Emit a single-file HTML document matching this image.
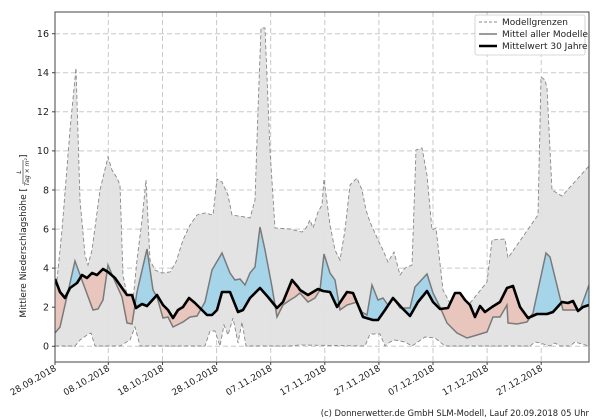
<!DOCTYPE html>
<html><head><meta charset="utf-8"><style>
body{margin:0;background:#fff}
svg{display:block;font-family:"DejaVu Sans","Liberation Sans",sans-serif}
</style></head><body>
<svg width="600" height="420" viewBox="0 0 600 420" xmlns="http://www.w3.org/2000/svg">
<defs>
<clipPath id="plot"><rect x="55" y="12" width="534" height="350"/></clipPath>
<clipPath id="aboveClim"><polygon points="55,12 55,279 60,292 65,298 70,288 77,283 82,275 87,278 92,273 97,275 103,269 108,272 115,278 122,288 127,295 132,295 136,308 142,304 147,306 157,295 163,305 168,310 173,318 178,310 183,307 189,298 195,303 207,315 212,315 217,310 222,292 230,292 238,312 243,310 250,298 260,288 268,297 277,308 283,302 292,280 298,287 300,290 308,295 318,289 323,291 330,292 337,307 347,292 353,293 363,317 373,320 378,320 385,310 393,298 402,308 410,316 418,302 427,291 433,302 440,309 448,308 455,293 460,293 465,300 470,305 475,317 480,306 485,312 492,307 500,302 507,288 513,286 520,307 528,318 537,314 547,314 553,312 562,302 568,303 573,301 578,311 583,307 589,305 589,12"/></clipPath>
<clipPath id="aboveModel"><polygon points="55,12 55,333 60,327 75,261 83,283 93,310 98,309 103,300 108,265 113,277 122,297 127,323 132,324 137,292 147,249 153,290 157,297 163,318 168,317 173,327 183,322 190,317 197,316 205,302 212,270 222,253 230,273 235,280 240,279 245,285 250,273 255,267 260,227 265,250 272,287 277,317 283,305 290,300 295,297 300,293 308,302 315,298 320,290 324,254 330,273 335,280 340,310 347,305 357,302 362,312 367,315 372,285 378,300 383,298 388,305 393,298 400,308 410,308 415,287 427,274 433,293 440,307 447,323 457,333 467,338 477,335 487,332 493,317 500,317 507,305 508,323 517,324 527,322 533,313 546,253 550,257 563,310 573,310 580,310 589,285 589,12"/></clipPath>
</defs>
<g stroke="#c8c8c8" stroke-width="1" stroke-dasharray="5,3">
<line x1="55" x2="589" y1="346.3" y2="346.3"/><line x1="55" x2="589" y1="307.2" y2="307.2"/><line x1="55" x2="589" y1="268.1" y2="268.1"/><line x1="55" x2="589" y1="229.1" y2="229.1"/><line x1="55" x2="589" y1="190" y2="190"/><line x1="55" x2="589" y1="150.9" y2="150.9"/><line x1="55" x2="589" y1="111.8" y2="111.8"/><line x1="55" x2="589" y1="72.7" y2="72.7"/><line x1="55" x2="589" y1="33.7" y2="33.7"/>
<line y1="12" y2="362" x1="108.3" x2="108.3"/><line y1="12" y2="362" x1="162.5" x2="162.5"/><line y1="12" y2="362" x1="216.6" x2="216.6"/><line y1="12" y2="362" x1="270.7" x2="270.7"/><line y1="12" y2="362" x1="324.8" x2="324.8"/><line y1="12" y2="362" x1="378.9" x2="378.9"/><line y1="12" y2="362" x1="433" x2="433"/><line y1="12" y2="362" x1="487.1" x2="487.1"/><line y1="12" y2="362" x1="541.2" x2="541.2"/>
</g>
<g clip-path="url(#plot)">
<polygon fill="#e2e2e2" fill-opacity="0.95" points="55,300 62,230 70,130 76,68 80,200 85,255 88,265 92,250 100,190 108,157 112,170 117,178 120,185 123,275 128,300 133,300 137,260 142,220 146,180 150,260 155,270 162,273 170,272 176,262 183,240 190,225 197,215 205,213 213,215 217,179 222,182 228,195 232,215 245,217 250,218 255,200 258,110 261,28 265,28 270,150 275,228 290,229 302,232 306,228 310,220 313,228 318,212 322,205 324,179 330,225 335,250 340,260 345,230 350,185 357,178 362,190 366,210 370,222 378,240 383,250 388,262 394,252 400,275 405,268 412,265 416,150 422,148 427,175 432,230 436,228 443,290 458,318 487,282 492,240 505,239 508,258 538,215 541,77 545,80 547,88 552,190 562,196 589,166 589,346 575,342 570,346 560,346 555,343 550,346 540,343 535,342 530,346 445,346 435,338 425,337 412,346 405,342 395,340 390,342 385,346 380,334 370,334 365,346 300,345 290,346 246,346 242,322 238,343 233,318 228,335 224,325 220,346 215,331 210,331 205,346 140,346 135,327 130,340 120,346 95,346 91,333 87,335 80,340 75,346 55,346"/>
<polyline fill="none" stroke="#888" stroke-width="0.9" stroke-dasharray="4,2.5" points="55,300 62,230 70,130 76,68 80,200 85,255 88,265 92,250 100,190 108,157 112,170 117,178 120,185 123,275 128,300 133,300 137,260 142,220 146,180 150,260 155,270 162,273 170,272 176,262 183,240 190,225 197,215 205,213 213,215 217,179 222,182 228,195 232,215 245,217 250,218 255,200 258,110 261,28 265,28 270,150 275,228 290,229 302,232 306,228 310,220 313,228 318,212 322,205 324,179 330,225 335,250 340,260 345,230 350,185 357,178 362,190 366,210 370,222 378,240 383,250 388,262 394,252 400,275 405,268 412,265 416,150 422,148 427,175 432,230 436,228 443,290 458,318 487,282 492,240 505,239 508,258 538,215 541,77 545,80 547,88 552,190 562,196 589,166"/>
<polyline fill="none" stroke="#888" stroke-width="0.9" stroke-dasharray="4,2.5" points="55,346 75,346 80,340 87,335 91,333 95,346 120,346 130,340 135,327 140,346 205,346 210,331 215,331 220,346 224,325 228,335 233,318 238,343 242,322 246,346 290,346 300,345 365,346 370,334 380,334 385,346 390,342 395,340 405,342 412,346 425,337 435,338 445,346 530,346 535,342 540,343 550,346 555,343 560,346 570,346 575,342 589,346"/>
<polygon clip-path="url(#aboveClim)" fill="#a6d5ea" points="55,333 60,327 75,261 83,283 93,310 98,309 103,300 108,265 113,277 122,297 127,323 132,324 137,292 147,249 153,290 157,297 163,318 168,317 173,327 183,322 190,317 197,316 205,302 212,270 222,253 230,273 235,280 240,279 245,285 250,273 255,267 260,227 265,250 272,287 277,317 283,305 290,300 295,297 300,293 308,302 315,298 320,290 324,254 330,273 335,280 340,310 347,305 357,302 362,312 367,315 372,285 378,300 383,298 388,305 393,298 400,308 410,308 415,287 427,274 433,293 440,307 447,323 457,333 467,338 477,335 487,332 493,317 500,317 507,305 508,323 517,324 527,322 533,313 546,253 550,257 563,310 573,310 580,310 589,285 589,362 55,362"/>
<polygon clip-path="url(#aboveModel)" fill="#e8c6be" points="55,279 60,292 65,298 70,288 77,283 82,275 87,278 92,273 97,275 103,269 108,272 115,278 122,288 127,295 132,295 136,308 142,304 147,306 157,295 163,305 168,310 173,318 178,310 183,307 189,298 195,303 207,315 212,315 217,310 222,292 230,292 238,312 243,310 250,298 260,288 268,297 277,308 283,302 292,280 298,287 300,290 308,295 318,289 323,291 330,292 337,307 347,292 353,293 363,317 373,320 378,320 385,310 393,298 402,308 410,316 418,302 427,291 433,302 440,309 448,308 455,293 460,293 465,300 470,305 475,317 480,306 485,312 492,307 500,302 507,288 513,286 520,307 528,318 537,314 547,314 553,312 562,302 568,303 573,301 578,311 583,307 589,305 589,362 55,362"/>
<polyline fill="none" stroke="#7a7a7a" stroke-width="1.5" points="55,333 60,327 75,261 83,283 93,310 98,309 103,300 108,265 113,277 122,297 127,323 132,324 137,292 147,249 153,290 157,297 163,318 168,317 173,327 183,322 190,317 197,316 205,302 212,270 222,253 230,273 235,280 240,279 245,285 250,273 255,267 260,227 265,250 272,287 277,317 283,305 290,300 295,297 300,293 308,302 315,298 320,290 324,254 330,273 335,280 340,310 347,305 357,302 362,312 367,315 372,285 378,300 383,298 388,305 393,298 400,308 410,308 415,287 427,274 433,293 440,307 447,323 457,333 467,338 477,335 487,332 493,317 500,317 507,305 508,323 517,324 527,322 533,313 546,253 550,257 563,310 573,310 580,310 589,285"/>
<polyline fill="none" stroke="#000" stroke-width="2.6" stroke-linejoin="round" points="55,279 60,292 65,298 70,288 77,283 82,275 87,278 92,273 97,275 103,269 108,272 115,278 122,288 127,295 132,295 136,308 142,304 147,306 157,295 163,305 168,310 173,318 178,310 183,307 189,298 195,303 207,315 212,315 217,310 222,292 230,292 238,312 243,310 250,298 260,288 268,297 277,308 283,302 292,280 298,287 300,290 308,295 318,289 323,291 330,292 337,307 347,292 353,293 363,317 373,320 378,320 385,310 393,298 402,308 410,316 418,302 427,291 433,302 440,309 448,308 455,293 460,293 465,300 470,305 475,317 480,306 485,312 492,307 500,302 507,288 513,286 520,307 528,318 537,314 547,314 553,312 562,302 568,303 573,301 578,311 583,307 589,305"/>
</g>
<rect x="55" y="12" width="534" height="350" fill="none" stroke="#444" stroke-width="1"/>
<g stroke="#444" stroke-width="1">
<line x1="52" x2="55" y1="346.3" y2="346.3"/><line x1="52" x2="55" y1="307.2" y2="307.2"/><line x1="52" x2="55" y1="268.1" y2="268.1"/><line x1="52" x2="55" y1="229.1" y2="229.1"/><line x1="52" x2="55" y1="190" y2="190"/><line x1="52" x2="55" y1="150.9" y2="150.9"/><line x1="52" x2="55" y1="111.8" y2="111.8"/><line x1="52" x2="55" y1="72.7" y2="72.7"/><line x1="52" x2="55" y1="33.7" y2="33.7"/>
<line y1="362" y2="365" x1="55" x2="55"/><line y1="362" y2="365" x1="108.3" x2="108.3"/><line y1="362" y2="365" x1="162.5" x2="162.5"/><line y1="362" y2="365" x1="216.6" x2="216.6"/><line y1="362" y2="365" x1="270.7" x2="270.7"/><line y1="362" y2="365" x1="324.8" x2="324.8"/><line y1="362" y2="365" x1="378.9" x2="378.9"/><line y1="362" y2="365" x1="433" x2="433"/><line y1="362" y2="365" x1="487.1" x2="487.1"/><line y1="362" y2="365" x1="541.2" x2="541.2"/>
</g>
<g font-size="9.5" fill="#222" text-anchor="end">
<text x="49" y="349.5">0</text><text x="49" y="310.5">2</text><text x="49" y="271.5">4</text><text x="49" y="232.5">6</text><text x="49" y="193.5">8</text><text x="49" y="154">10</text><text x="49" y="115">12</text><text x="49" y="76">14</text><text x="49" y="37">16</text>
</g>
<g font-size="9" fill="#222" text-anchor="end">
<text transform="translate(57,370) rotate(-30)">28.09.2018</text>
<text transform="translate(110.3,370) rotate(-30)">08.10.2018</text>
<text transform="translate(164.5,370) rotate(-30)">18.10.2018</text>
<text transform="translate(218.6,370) rotate(-30)">28.10.2018</text>
<text transform="translate(272.7,370) rotate(-30)">07.11.2018</text>
<text transform="translate(326.8,370) rotate(-30)">17.11.2018</text>
<text transform="translate(380.9,370) rotate(-30)">27.11.2018</text>
<text transform="translate(435,370) rotate(-30)">07.12.2018</text>
<text transform="translate(489.1,370) rotate(-30)">17.12.2018</text>
<text transform="translate(543.2,370) rotate(-30)">27.12.2018</text>
</g>
<g transform="translate(26,188) rotate(-90)" font-size="9" fill="#222">
<text x="0" y="0" text-anchor="end">Mittlere Niederschlagshöhe [</text>
<text x="16" y="-5" font-size="6" text-anchor="middle" font-style="italic">L</text>
<line x1="4" x2="28" y1="-3" y2="-3" stroke="#222" stroke-width="0.6"/>
<text x="16" y="3" font-size="6" text-anchor="middle" font-style="italic">Tag × m²</text>
<text x="30" y="0">]</text>
</g>
<rect x="475" y="15" width="110" height="40" fill="#fff" fill-opacity="0.9" stroke="#ccc" stroke-width="0.8" rx="2"/>
<line x1="479" x2="497" y1="22" y2="22" stroke="#888" stroke-dasharray="3,2"/>
<line x1="479" x2="497" y1="34" y2="34" stroke="#7a7a7a" stroke-width="1.5"/>
<line x1="479" x2="497" y1="46" y2="46" stroke="#000" stroke-width="2.6"/>
<g font-size="9" fill="#222">
<text x="502" y="25">Modellgrenzen</text>
<text x="502" y="37">Mittel aller Modelle</text>
<text x="502" y="49">Mittelwert 30 Jahre</text>
</g>
<text x="589" y="416" font-size="8.4" fill="#222" text-anchor="end">(c) Donnerwetter.de GmbH SLM-Modell, Lauf 20.09.2018 05 Uhr</text>
</svg>
</body></html>
